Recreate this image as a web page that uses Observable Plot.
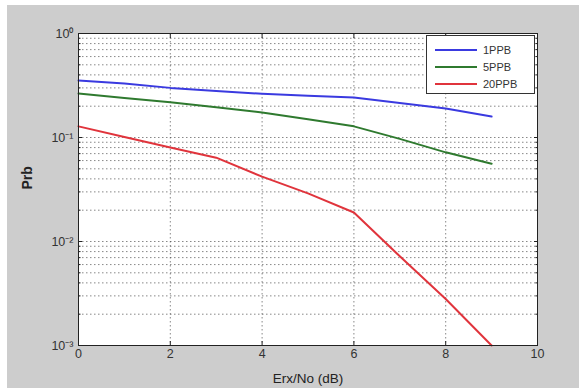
<!DOCTYPE html>
<html>
<head>
<meta charset="utf-8">
<script src="https://cdn.jsdelivr.net/npm/d3@7"></script>
<script src="https://cdn.jsdelivr.net/npm/@observablehq/plot@0.6"></script>
<style>
  html, body { margin: 0; padding: 0; background: #ffffff; }
  #wrap { position: absolute; left: 7px; top: 5px; }
  #legend {
    position: absolute; left: 426px; top: 35px; width: 109px; height: 59px;
    background: #fff; border: 1px solid #333; box-sizing: border-box;
    font-family: "Liberation Sans", Arial, sans-serif; font-size: 11px; color: #333;
  }
  #legend .row { position: absolute; left: 8px; height: 14px; display: flex; align-items: center; }
  #legend .sw { width: 42px; height: 0; border-top: 2px solid; margin-right: 6px; }
</style>
</head>
<body>
<div id="wrap"></div>
<div id="legend"></div>
<script>
const xValues = [0, 1, 2, 3, 4, 5, 6, 7, 8, 9];
const seriesNames = ["1PPB", "5PPB", "20PPB"];
const seriesColors = ["#3a3ae0", "#2f7a2f", "#e0343c"];
const ppb1  = [0.353, 0.33, 0.30, 0.28, 0.263, 0.252, 0.243, 0.215, 0.19, 0.159];
const ppb5  = [0.265, 0.24, 0.218, 0.195, 0.174, 0.15, 0.128, 0.097, 0.072, 0.056];
const ppb20 = [0.128, 0.101, 0.080, 0.064, 0.042, 0.029, 0.019, 0.0072, 0.0028, 0.001];
const xTicks = [0, 2, 4, 6, 8, 10];
const yTicks = [1e-3, 1e-2, 1e-1, 1];
const yTickLabels = ["10\u207B\u00B3", "10\u207B\u00B2", "10\u207B\u00B9", "10\u2070"];
const xLabel = "Erx/No (dB)";
const yLabel = "Prb";

const allSeries = [ppb1, ppb5, ppb20];
const rows = [];
allSeries.forEach((vals, i) => vals.forEach((v, j) => rows.push({x: xValues[j], y: v, s: seriesNames[i]})));

const minorY = d3.scaleLog().domain([1e-3, 1]).ticks();
const gridX = xTicks.filter(d => d > 0 && d < 10);

const chart = Plot.plot({
  width: 572,
  height: 383,
  marginLeft: 71,
  marginTop: 28,
  marginRight: 42,
  marginBottom: 43,
  style: {background: "#cdcdcd", fontFamily: "Liberation Sans, Arial, sans-serif", fontSize: "11px", color: "#333"},
  x: {domain: [0, 10], ticks: xTicks},
  y: {type: "log", domain: [1e-3, 1]},
  color: {domain: seriesNames, range: seriesColors},
  marks: [
    Plot.frame({fill: "white", stroke: null}),
    Plot.ruleY(minorY, {stroke: "#444", strokeOpacity: 0.8, strokeDasharray: "1.5,2.5", strokeWidth: 0.8}),
    Plot.ruleX(gridX, {stroke: "#444", strokeOpacity: 0.8, strokeDasharray: "1.5,2.5", strokeWidth: 0.8}),
    Plot.line(rows, {x: "x", y: "y", stroke: "s", z: "s", strokeWidth: 2}),
    Plot.frame({stroke: "#222", strokeWidth: 1}),
    Plot.axisX({ticks: xTicks, tickSize: -4, tickPadding: 8, fontSize: 12.5, label: null, stroke: "#222"}),
    Plot.axisX({anchor: "top", ticks: xTicks, tickSize: -4, tickFormat: () => "", label: null, stroke: "#222"}),
    Plot.axisY({ticks: minorY, tickSize: -2.5, tickFormat: () => "", label: null, stroke: "#222"}),
    Plot.axisY({ticks: yTicks, tickSize: -4, tickPadding: 9, fontSize: 12.5, tickFormat: (d) => yTickLabels[yTicks.indexOf(d)], label: null, stroke: "#222"}),
    Plot.axisY({anchor: "right", ticks: minorY, tickSize: -2.5, tickFormat: () => "", label: null, stroke: "#222"}),
    Plot.axisY({anchor: "right", ticks: yTicks, tickSize: -4, tickFormat: () => "", label: null, stroke: "#222"}),
    Plot.text([xLabel], {frameAnchor: "bottom", dy: 37, fontSize: 13.5, fill: "#222"}),
    Plot.text([yLabel], {frameAnchor: "left", dx: -51, dy: 0, rotate: -90, fontSize: 14, fontWeight: 600, fill: "#222"})
  ]
});
document.getElementById("wrap").appendChild(chart);

const legend = document.getElementById("legend");
seriesNames.forEach((name, i) => {
  const row = document.createElement("div");
  row.className = "row";
  row.style.top = (7 + i * 17) + "px";
  const sw = document.createElement("div");
  sw.className = "sw";
  sw.style.borderTopColor = seriesColors[i];
  const t = document.createElement("span");
  t.textContent = name;
  row.appendChild(sw);
  row.appendChild(t);
  legend.appendChild(row);
});
</script>
</body>
</html>
